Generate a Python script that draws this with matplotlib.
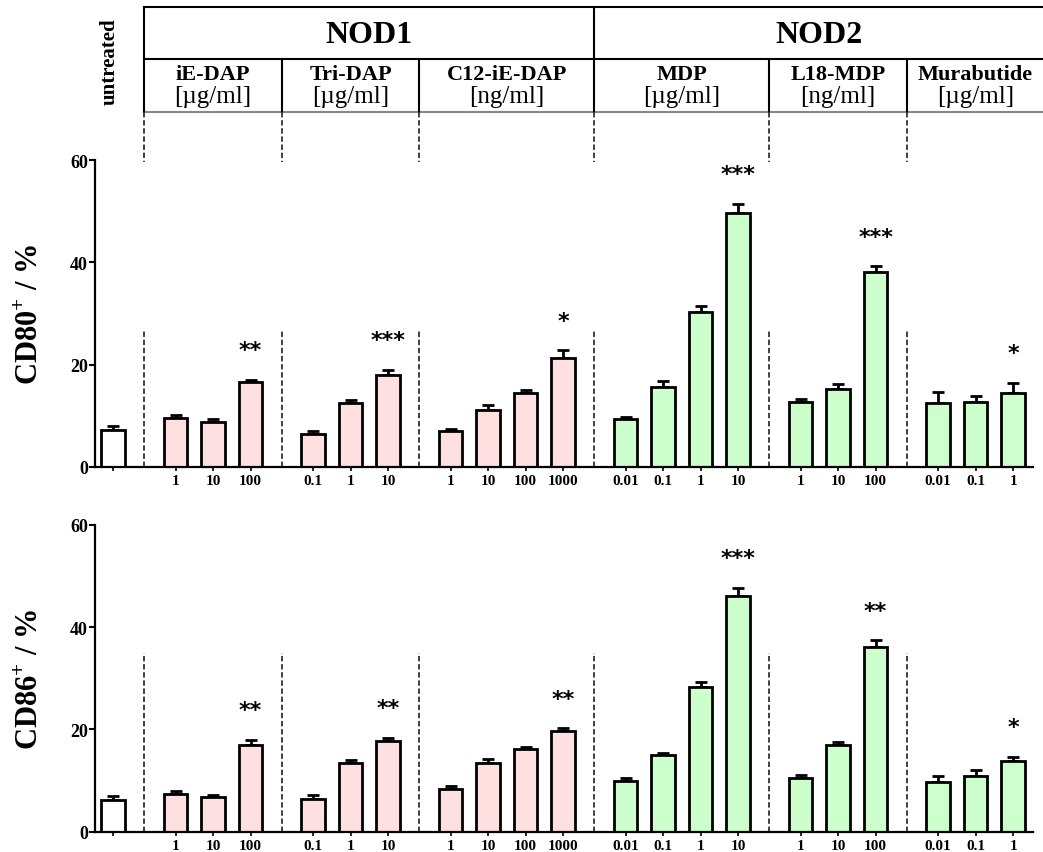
import numpy as np
import matplotlib as mpl
mpl.use('Agg')
from matplotlib import pyplot as plt

# Treatment groups, doses and measurements (mean, SEM, significance)
groups = ['untreated', 'iE-DAP', 'Tri-DAP', 'C12-iE-DAP', 'MDP', 'L18-MDP', 'Murabutide']
units = ['', '[µg/ml]', '[µg/ml]', '[ng/ml]', '[µg/ml]', '[ng/ml]', '[µg/ml]']
receptors = [None, 'NOD1', 'NOD1', 'NOD1', 'NOD2', 'NOD2', 'NOD2']
doses = [[''], ['1', '10', '100'], ['0.1', '1', '10'], ['1', '10', '100', '1000'],
         ['0.01', '0.1', '1', '10'], ['1', '10', '100'], ['0.01', '0.1', '1']]

cd80_mean = [7.3, 9.6, 8.7, 16.7, 6.4, 12.6, 17.9, 7.0, 11.2, 14.5, 21.3,
             9.4, 15.6, 30.2, 49.6, 12.8, 15.2, 38.1, 12.6, 12.8, 14.5]
cd80_sem = [0.8, 0.5, 0.6, 0.4, 0.6, 0.5, 1.1, 0.4, 1.0, 0.5, 1.5,
            0.4, 1.2, 1.3, 1.8, 0.5, 1.0, 1.1, 2.0, 1.1, 1.9]
cd80_sig = ['', '', '', '**', '', '', '***', '', '', '', '*',
            '', '', '', '***', '', '', '***', '', '', '*']

cd86_mean = [6.2, 7.4, 6.8, 16.9, 6.4, 13.5, 17.7, 8.4, 13.5, 16.2, 19.6,
             10.0, 14.9, 28.2, 46.0, 10.5, 17.0, 36.1, 9.8, 10.9, 13.9]
cd86_sem = [0.8, 0.5, 0.4, 1.1, 0.8, 0.5, 0.7, 0.6, 0.8, 0.3, 0.6,
            0.5, 0.5, 1.1, 1.6, 0.6, 0.5, 1.3, 1.0, 1.1, 0.7]
cd86_sig = ['', '', '', '**', '', '', '**', '', '', '', '**',
            '', '', '', '***', '', '', '**', '', '', '*']

plt.rcParams['font.family'] = 'Liberation Serif'
plt.rcParams['mathtext.fontset'] = 'custom'
plt.rcParams['mathtext.rm'] = 'Liberation Serif:bold'
plt.rcParams['mathtext.bf'] = 'Liberation Serif:bold'

fill = {None: 'white', 'NOD1': '#FFE0E0', 'NOD2': '#CCFFCC'}

# bar positions: one slot per dose, extra gap between treatment groups
gap = 2.0 / 3.0
pos, colors, ticklabels, group_pos = [], [], [], []
x = 0.0
for gi, d in enumerate(doses):
    if gi > 0:
        x += gap
    gp = []
    for lab in d:
        pos.append(x)
        gp.append(x)
        colors.append(fill[receptors[gi]])
        ticklabels.append(lab)
        x += 1
    group_pos.append(gp)
pos = np.array(pos)
# dashed separators halfway between groups
bounds = [group_pos[i][-1] + (1 + gap) / 2 for i in range(len(groups) - 1)]

W, H = 1043, 853
fig = plt.figure(figsize=(W / 100, H / 100), dpi=100)

def px_axes(x0, y0, x1, y1):
    return fig.add_axes([x0 / W, 1 - y1 / H, (x1 - x0) / W, (y1 - y0) / H])

xmin, xmax = -0.48, 24.53
ppu = (1033 - 95) / (xmax - xmin)


def panel(ax, mean, sem, sig, ylab, sep_top):
    ax.bar(pos, mean, width=0.62, color=colors, edgecolor='black', linewidth=2.0, zorder=3)
    ax.errorbar(pos, mean, yerr=[np.zeros(len(sem)), sem], fmt='none', ecolor='black',
                elinewidth=2.0, capsize=4.5, capthick=2.0, zorder=2)
    for xi, m, s, t in zip(pos, mean, sem, sig):
        if t:
            ax.text(xi, m + s + 5.8, t, ha='center', va='center', fontsize=16,
                    family='DejaVu Sans', fontweight='bold')
    for b in bounds:
        ax.plot([b, b], [0, sep_top], ls=(0, (3, 1.5)), color='#333333', lw=1.3, zorder=1)
    ax.set_xlim(xmin, xmax)
    ax.set_ylim(0, 60)
    ax.set_yticks([0, 20, 40, 60])
    ax.set_xticks(pos)
    ax.set_xticklabels(ticklabels)
    for s in ['top', 'right']:
        ax.spines[s].set_visible(False)
    for s in ['left', 'bottom']:
        ax.spines[s].set_linewidth(1.6)
    ax.spines['bottom'].set_zorder(4)
    ax.tick_params(axis='y', length=4, width=1.5, pad=1, labelsize=13)
    ax.tick_params(axis='x', length=3, width=1.2, pad=2, labelsize=11)
    for lab in ax.get_xticklabels() + ax.get_yticklabels():
        lab.set_fontweight('bold')
    ax.set_ylabel(ylab, fontsize=22, fontweight='bold')
    ax.yaxis.set_label_coords(-0.053, 0.5)


ax_top = px_axes(95, 161, 1033, 468)
panel(ax_top, cd80_mean, cd80_sem, cd80_sig, r'CD80$^{+}$ / %', 27)
ax_bot = px_axes(95, 525.7, 1033, 832.7)
panel(ax_bot, cd86_mean, cd86_sem, cd86_sig, r'CD86$^{+}$ / %', 35)

# header table above the panels (y in pixel rows, top down)
hdr = px_axes(95, 8, 1043, 163)
hxmax = xmin + (1043 - 95) / ppu
hdr.set_xlim(xmin, hxmax)
hdr.set_ylim(163, 8)
hdr.axis('off')
y_top, y_mid, y_bot = 8, 60, 113
nod_split = bounds[3]
kw = dict(color='black', lw=1.5, clip_on=False)
hdr.plot([bounds[0], hxmax], [y_top, y_top], **kw)
hdr.plot([bounds[0], hxmax], [y_mid, y_mid], **kw)
hdr.plot([bounds[0], hxmax], [y_bot, y_bot], color='#888888', lw=1.5, clip_on=False)
hdr.plot([bounds[0], bounds[0]], [y_top, y_bot], **kw)
hdr.plot([nod_split, nod_split], [y_top, y_bot], **kw)
for b in bounds[1:]:
    if b != nod_split:
        hdr.plot([b, b], [y_mid, y_bot], **kw)
for b in bounds:
    hdr.plot([b, b], [y_bot, 163], ls=(0, (3, 1.5)), color='#333333', lw=1.3, clip_on=False)

hdr.text((bounds[0] + nod_split) / 2, 35, 'NOD1', ha='center', va='center',
         fontsize=23, fontweight='bold')
hdr.text((nod_split + hxmax) / 2, 35, 'NOD2', ha='center', va='center',
         fontsize=23, fontweight='bold')
hdr.text(group_pos[0][0] - 0.1, 62, groups[0], rotation=90, ha='center', va='center',
         fontsize=15, fontweight='bold')
for gi in range(1, len(groups)):
    cx = np.mean(group_pos[gi])
    hdr.text(cx, 75, groups[gi], ha='center', va='center', fontsize=16, fontweight='bold')
    hdr.text(cx, 97, units[gi], ha='center', va='center', fontsize=18)

fig.savefig('out.png', dpi=100, facecolor='white')
